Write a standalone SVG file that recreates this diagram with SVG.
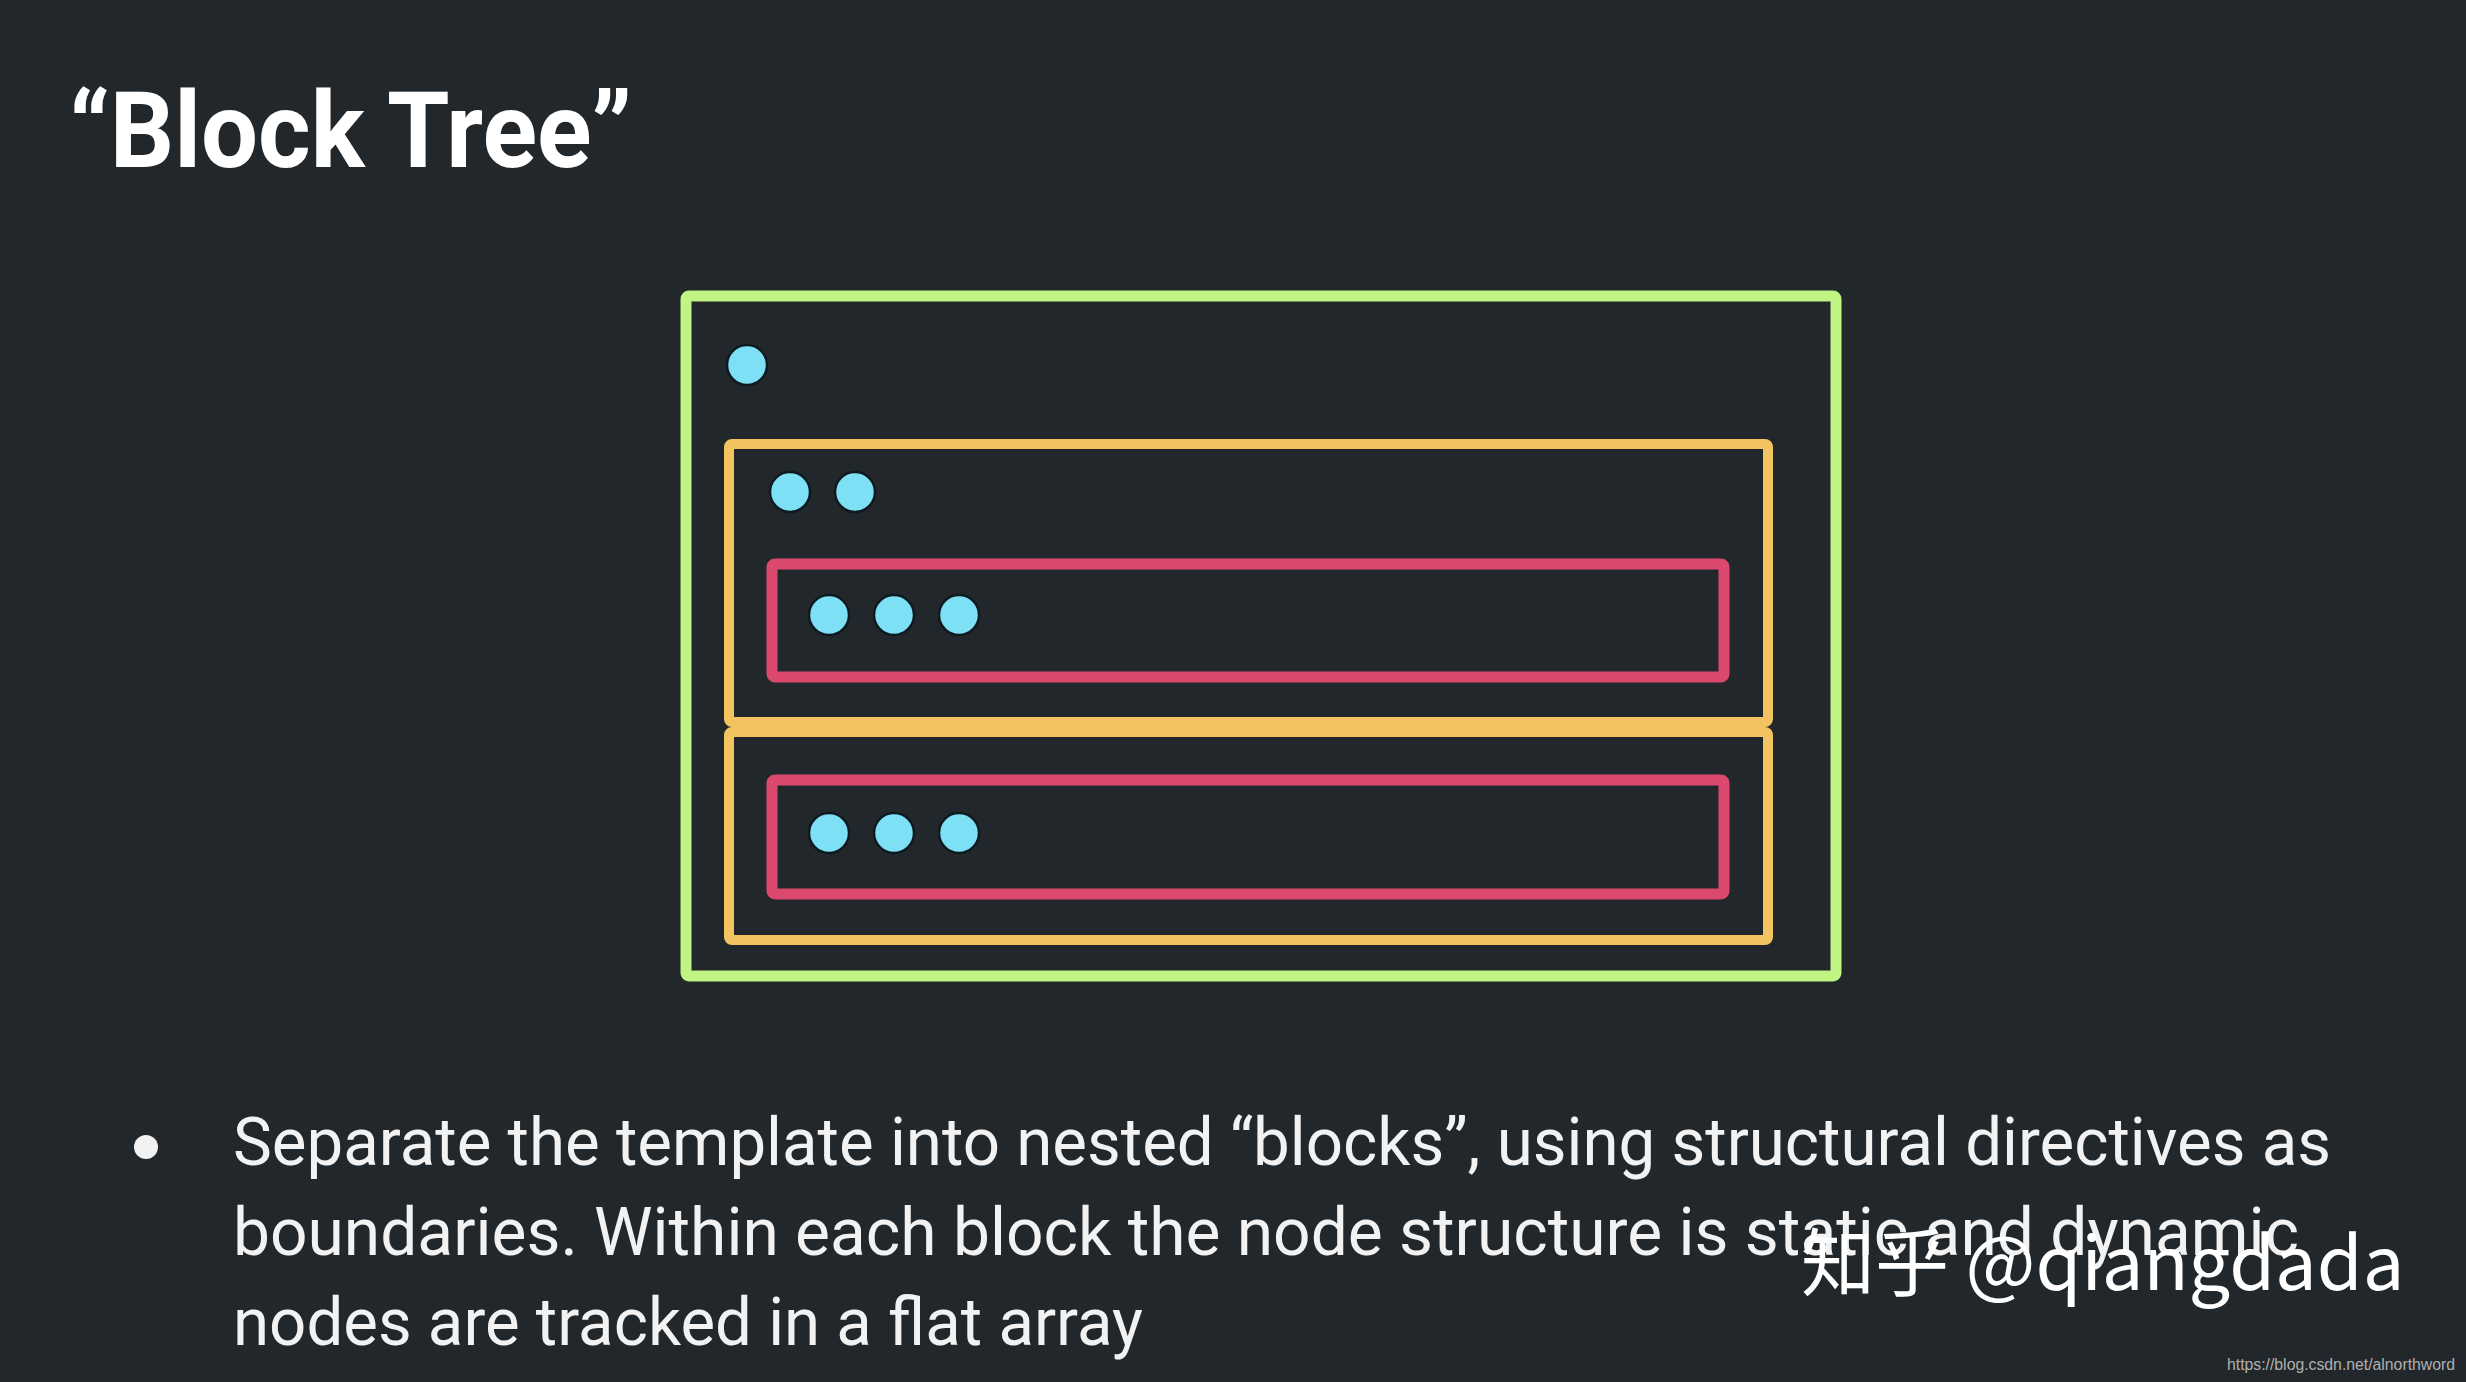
<svg xmlns="http://www.w3.org/2000/svg" width="2466" height="1382" viewBox="0 0 2466 1382">
<style>
.box{fill:none;stroke-linejoin:round}
.green{stroke:#c0f585;stroke-width:11}
.orange{stroke:#f2c35e;stroke-width:10}
.red{stroke:#db4a6e;stroke-width:11}
.dot{fill:#7de0f4;stroke:#0f1a20;stroke-width:2.5}
.title{font-family:Roboto,"Liberation Sans",sans-serif;font-weight:bold;font-size:106px;fill:#ffffff}
.body{font-family:Roboto,"Liberation Sans",sans-serif;font-size:66px;fill:#f2f2f2}
.wm{font-family:"Noto Sans CJK SC","Noto Sans",sans-serif;font-size:74px;fill:#ffffff}
.url{font-family:"Liberation Sans",sans-serif;font-size:16px;fill:#b0b0b0}
</style>
<rect width="2466" height="1382" fill="#22272b"/>
<text class="title" x="69" y="167" textLength="563" lengthAdjust="spacingAndGlyphs">“Block Tree”</text>
<g id="outer-block">
<rect class="box green" x="686" y="296" width="1150" height="680" rx="3"/>
<circle class="dot" cx="747" cy="365" r="20"/>
</g>
<g id="block-top">
<rect class="box orange" x="729" y="444" width="1039" height="278" rx="3"/>
<circle class="dot" cx="790" cy="492" r="20"/>
<circle class="dot" cx="855" cy="492" r="20"/>
</g>
<g id="block-top-inner">
<rect class="box red" x="772" y="564" width="952" height="113" rx="3"/>
<circle class="dot" cx="829" cy="615" r="20"/>
<circle class="dot" cx="894" cy="615" r="20"/>
<circle class="dot" cx="959" cy="615" r="20"/>
</g>
<g id="block-bottom">
<rect class="box orange" x="729" y="732" width="1039" height="208" rx="3"/>
</g>
<g id="block-bottom-inner">
<rect class="box red" x="772" y="780" width="952" height="114" rx="3"/>
<circle class="dot" cx="829" cy="833" r="20"/>
<circle class="dot" cx="894" cy="833" r="20"/>
<circle class="dot" cx="959" cy="833" r="20"/>
</g>
<g id="connectors"></g>
<circle cx="146" cy="1147" r="12" fill="#f2f2f2"/>
<text class="body" x="233" y="1165" textLength="2098" lengthAdjust="spacingAndGlyphs">Separate the template into nested “blocks”, using structural directives as</text>
<text class="body" x="233" y="1255" textLength="2066" lengthAdjust="spacingAndGlyphs">boundaries. Within each block the node structure is static and dynamic</text>
<text class="body" x="233" y="1345" textLength="910" lengthAdjust="spacingAndGlyphs">nodes are tracked in a flat array</text>
<text class="wm" x="1801" y="1290">知乎 @qiangdada</text>
<text class="url" x="2227" y="1370" textLength="228" lengthAdjust="spacingAndGlyphs">https://blog.csdn.net/alnorthword</text>
</svg>
